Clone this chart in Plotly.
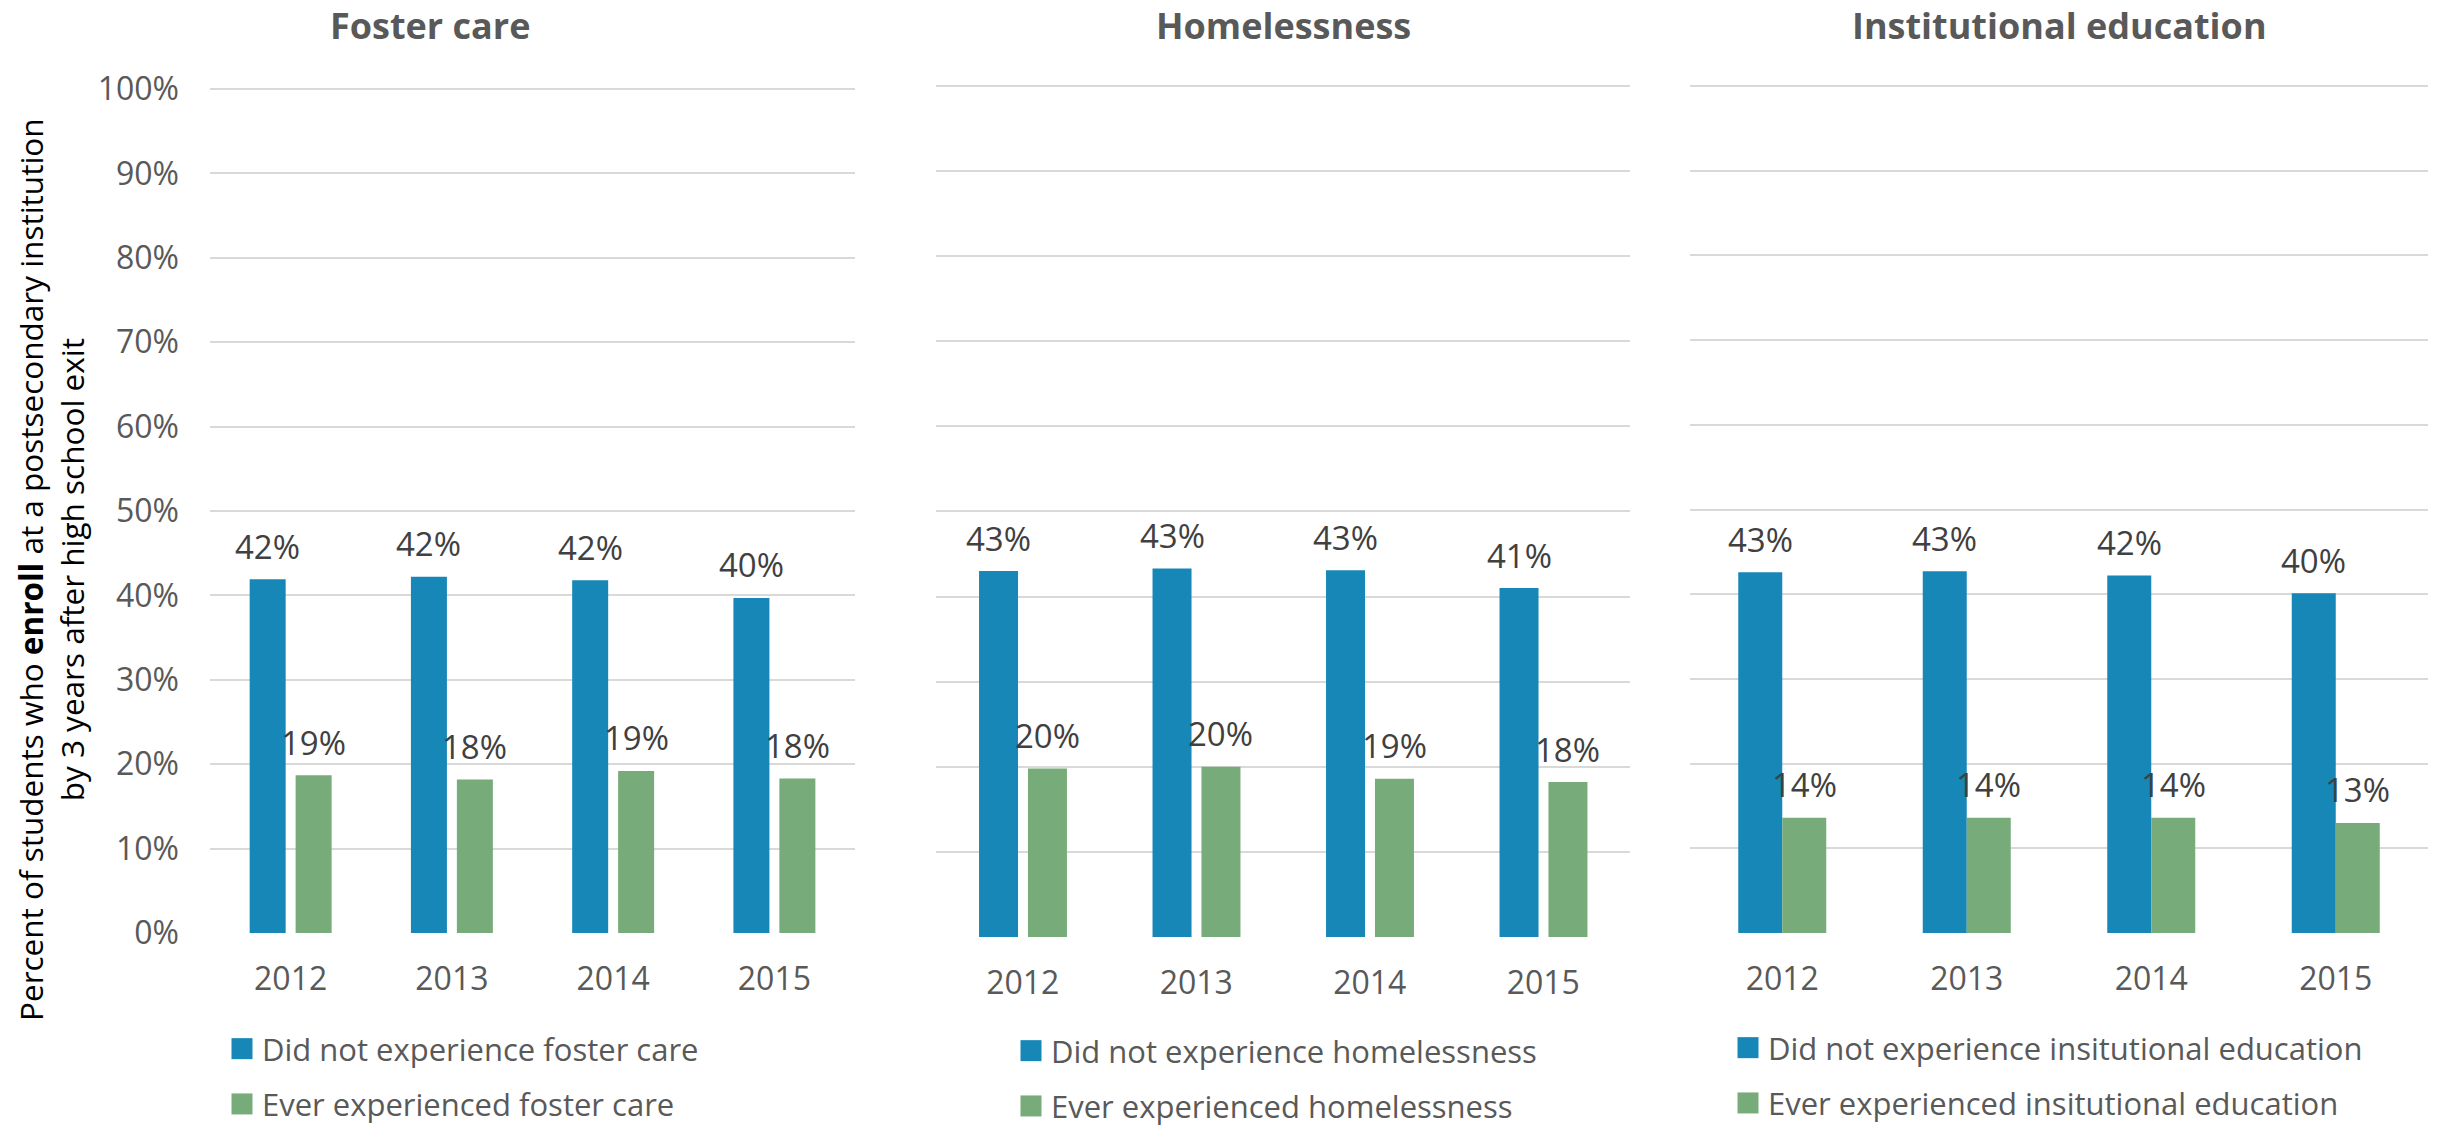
import plotly.graph_objects as go

# ---------------- data ----------------
years = ["2012", "2013", "2014", "2015"]
panel_titles = ["Foster care", "Homelessness", "Institutional education"]
not_names = ["Did not experience foster care",
             "Did not experience homelessness",
             "Did not experience insitutional education"]
ever_names = ["Ever experienced foster care",
              "Ever experienced homelessness",
              "Ever experienced insitutional education"]

foster_not = [41.9, 42.2, 41.8, 39.7]
foster_ever = [18.7, 18.2, 19.2, 18.3]
homeless_not = [43.0, 43.3, 43.1, 41.0]
homeless_ever = [19.8, 20.0, 18.6, 18.2]
inst_not = [42.6, 42.7, 42.2, 40.1]
inst_ever = [13.6, 13.6, 13.6, 13.0]

y_ticks = [0, 10, 20, 30, 40, 50, 60, 70, 80, 90, 100]
y_tick_text = [f"{v}%" for v in y_ticks]

# ---------------- styles ----------------
W, H = 2440, 1130
BLUE = "#1787B8"
GREEN = "#77AB7A"
GRID = "#D9D9D9"
AXIS_TXT = "#595959"
LABEL_TXT = "#404040"
FONT = "Open Sans"
Y_MAX = 100.4  # tiny headroom so the 100% gridline is always drawn

panels = [
    dict(not_v=foster_not, ever_v=foster_ever,
         xdom=(210, 855), ybot=933, ytop=89,
         width=0.2233, off_not=-0.254, off_ever=0.031,
         title_x=430, leg_x=222, leg_y=1022),
    dict(not_v=homeless_not, ever_v=homeless_ever,
         xdom=(936, 1630), ybot=937, ytop=86,
         width=0.2248, off_not=-0.252, off_ever=0.030,
         title_x=1283, leg_x=1011, leg_y=1024),
    dict(not_v=inst_not, ever_v=inst_ever,
         xdom=(1690, 2428), ybot=933, ytop=86,
         width=0.2385, off_not=-0.2385, off_ever=0.0,
         title_x=2059, leg_x=1728, leg_y=1021),
]

fig = go.Figure()
annotations = []
layout_axes = {}

for i, p in enumerate(panels):
    n = "" if i == 0 else str(i + 1)
    xa, ya = "x" + n, "y" + n
    leg = "legend" + n
    for vals, name, color, off, grp in [
        (p["not_v"], not_names[i], BLUE, p["off_not"], "a"),
        (p["ever_v"], ever_names[i], GREEN, p["off_ever"], "b"),
    ]:
        fig.add_trace(go.Bar(
            x=years, y=vals, name=name, xaxis=xa, yaxis=ya,
            marker=dict(color=color, line=dict(width=0)),
            width=p["width"], offset=off, legend=leg,
            legendgroup=f"{i}{grp}", hoverinfo="skip",
        ))
        for k, v in enumerate(vals):
            annotations.append(dict(
                x=k + off + p["width"] / 2, y=v, xref=xa, yref=ya,
                text=f"{v:.0f}%", showarrow=False, xanchor="center",
                yanchor="middle", yshift=33,
                font=dict(family=FONT, size=33, color=LABEL_TXT),
            ))

    px_per = (p["ybot"] - p["ytop"]) / 100.0
    top_px = p["ytop"] - (Y_MAX - 100) * px_per
    layout_axes["xaxis" + n] = dict(
        domain=[p["xdom"][0] / W, p["xdom"][1] / W], anchor=ya,
        type="category", range=[-0.5, 3.5], showgrid=False, zeroline=False,
        showline=False, ticks="", ticklabelstandoff=24, automargin=False,
        tickfont=dict(family=FONT, size=32, color=AXIS_TXT),
    )
    layout_axes["yaxis" + n] = dict(
        domain=[1 - p["ybot"] / H, 1 - top_px / H], anchor=xa,
        range=[0, Y_MAX], tickvals=y_ticks, ticktext=y_tick_text,
        showticklabels=(i == 0), showgrid=True, gridcolor=GRID, gridwidth=2,
        zeroline=False, showline=False, ticks="", ticklabelstandoff=30,
        automargin=False,
        tickfont=dict(family=FONT, size=32, color=AXIS_TXT),
    )
    layout_axes[leg] = dict(
        x=p["leg_x"] / W, y=1 - p["leg_y"] / H, xanchor="left", yanchor="top",
        orientation="v", bgcolor="rgba(0,0,0,0)", itemwidth=30,
        tracegroupgap=12, traceorder="grouped",
        font=dict(family=FONT, size=31, color=AXIS_TXT),
        itemclick=False, itemdoubleclick=False,
    )
    annotations.append(dict(
        x=p["title_x"] / W, y=1 - 25 / H, xref="paper", yref="paper",
        text=f"<b>{panel_titles[i]}</b>", showarrow=False,
        xanchor="center", yanchor="middle",
        font=dict(family=FONT, size=36, color=AXIS_TXT),
    ))

annotations.append(dict(
    x=51 / W, y=1 - 570 / H, xref="paper", yref="paper",
    text="Percent of students who <b>enroll</b> at a postsecondary institution"
         "<br>by 3 years after high school exit",
    textangle=-90, showarrow=False, xanchor="center", yanchor="middle",
    font=dict(family=FONT, size=31.5, color="#000000"),
))

fig.update_layout(
    width=W, height=H,
    margin=dict(l=0, r=0, t=0, b=0, pad=0, autoexpand=False),
    paper_bgcolor="white", plot_bgcolor="white",
    barmode="overlay", showlegend=True,
    annotations=annotations, **layout_axes,
)

post = ("document.querySelectorAll('.legendpoints path').forEach(function(p){"
        "p.setAttribute('d','M10.5,10.5H-10.5V-10.5H10.5Z');});")
fig.write_html("out.html", post_script=post)
